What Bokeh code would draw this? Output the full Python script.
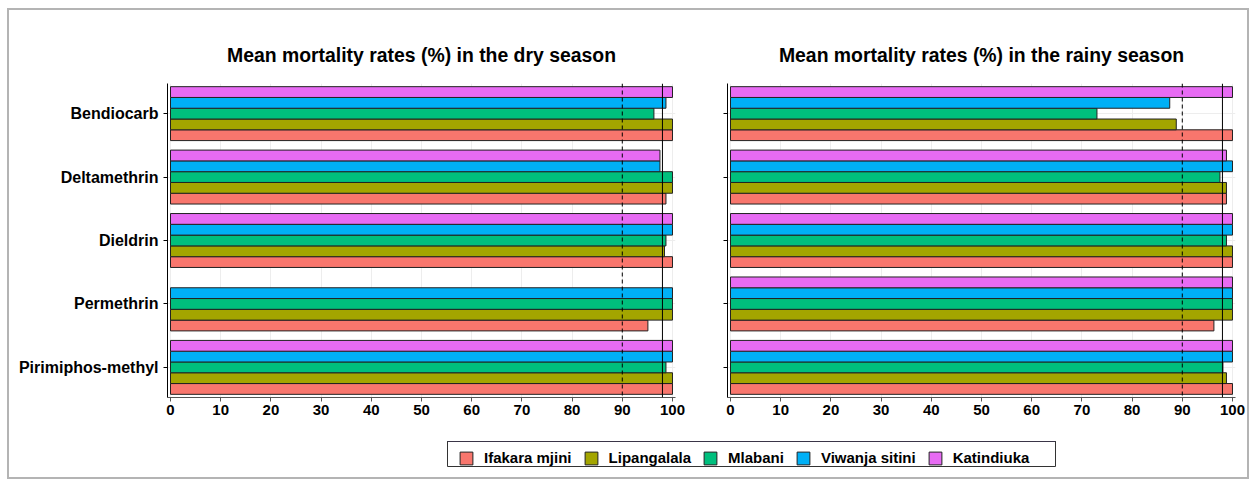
import math
from bokeh.plotting import figure
from bokeh.models import (ColumnDataSource, FactorRange, Range1d, Span, Legend,
                          LegendItem, FixedTicker)
from bokeh.transform import dodge
from bokeh.layouts import column, row
from bokeh.embed import file_html
from bokeh.resources import INLINE

NaN = float("nan")

# ---------------- data ----------------
insecticides = ["Bendiocarb", "Deltamethrin", "Dieldrin", "Permethrin", "Pirimiphos-methyl"]
villages = ["Ifakara mjini", "Lipangalala", "Mlabani", "Viwanja sitini", "Katindiuka"]
colors = ["#F8766D", "#A3A500", "#00BF7D", "#00B0F6", "#E76BF3"]

# dry season mean mortality (%) per insecticide (order as `insecticides`)
dry_ifakara = [100, 98.7, 100, 95.1, 100]
dry_lipangalala = [100, 100, 98.4, 100, 100]
dry_mlabani = [96.3, 100, 98.7, 100, 98.7]
dry_viwanja = [98.7, 97.5, 100, 100, 100]
dry_katindiuka = [100, 97.5, 100, NaN, 100]

# rainy season mean mortality (%)
rainy_ifakara = [100, 98.8, 100, 96.3, 100]
rainy_lipangalala = [88.8, 98.8, 100, 100, 98.8]
rainy_mlabani = [73.0, 97.5, 98.8, 100, 98.1]
rainy_viwanja = [87.5, 100, 100, 100, 100]
rainy_katindiuka = [100, 98.8, 100, 100, 100]

x_ticks = [0, 10, 20, 30, 40, 50, 60, 70, 80, 90, 100]
cutoff_dashed = 90
cutoff_solid = 98

dry = [dry_ifakara, dry_lipangalala, dry_mlabani, dry_viwanja, dry_katindiuka]
rainy = [rainy_ifakara, rainy_lipangalala, rainy_mlabani, rainy_viwanja, rainy_katindiuka]

FONT = "Liberation Sans"
BAR_H = 0.17


def make_panel(title, series, show_labels, width, min_left, min_right):
    p = figure(width=width, height=417, output_backend="svg", toolbar_location=None,
               y_range=FactorRange(factors=list(reversed(insecticides)), range_padding=-0.01),
               x_range=Range1d(-0.6, 100.6),
               min_border_left=min_left, min_border_right=min_right,
               min_border_top=73, min_border_bottom=30)
    p.title.text = title
    p.title.align = "center"
    p.title.text_font = FONT
    p.title.text_font_size = "19.4px"
    p.title.text_font_style = "bold"
    p.title.text_color = "black"
    p.title.standoff = 36
    p.outline_line_color = None
    p.background_fill_color = "white"
    p.border_fill_color = "white"

    for k, (vals, col) in enumerate(zip(series, colors)):
        src = ColumnDataSource(dict(ins=insecticides, val=vals))
        p.hbar(y=dodge("ins", (k - 2) * BAR_H, range=p.y_range), right="val", left=0,
               height=BAR_H, source=src, fill_color=col, line_color="#222222",
               line_width=1)

    p.add_layout(Span(location=cutoff_dashed, dimension="height", line_color="black",
                      line_width=1, line_dash="4 3"))
    p.add_layout(Span(location=cutoff_solid, dimension="height", line_color="black",
                      line_width=1))

    p.xaxis.ticker = FixedTicker(ticks=x_ticks)
    p.xgrid.ticker = FixedTicker(ticks=x_ticks)
    p.xgrid.grid_line_color = "#ededed"
    p.ygrid.grid_line_color = "#ededed"
    p.xaxis.axis_line_color = "#555555"
    p.xaxis.major_tick_line_color = "#555555"
    p.xaxis.major_tick_out = 4
    p.xaxis.major_tick_in = 0
    p.xaxis.minor_tick_line_color = None
    p.xaxis.major_label_text_font = FONT
    p.xaxis.major_label_text_font_size = "15px"
    p.xaxis.major_label_text_font_style = "bold"
    p.xaxis.major_label_text_color = "black"
    p.xaxis.major_label_standoff = 3

    p.yaxis.axis_line_color = "black"
    p.yaxis.major_tick_line_color = "black"
    p.yaxis.major_tick_out = 4
    p.yaxis.major_tick_in = 0
    p.yaxis.major_label_text_font = FONT
    p.yaxis.major_label_text_font_style = "bold"
    p.yaxis.major_label_text_color = "black"
    p.yaxis.major_label_standoff = 5
    # the rainy-season panel shares the category labels of the dry-season panel
    p.yaxis.major_label_text_font_size = "16px" if show_labels else "0px"
    return p


p1 = make_panel("Mean mortality rates (%) in the dry season", dry, True, 688, 158, 22)
p2 = make_panel("Mean mortality rates (%) in the rainy season", rainy, False, 550, 30, 12)

# legend-only figure: its frame outline is the legend box
pl = figure(width=1238, height=50, output_backend="svg", toolbar_location=None,
            x_range=Range1d(0, 1), y_range=Range1d(0, 1),
            min_border_left=438, min_border_right=192, min_border_top=14,
            min_border_bottom=11)
pl.axis.visible = False
pl.grid.visible = False
pl.outline_line_color = "#333333"
pl.outline_line_width = 1
items = []
for v, col in zip(villages, colors):
    # swatch-only renderer (bar lies outside the visible range)
    r = pl.hbar(y=[10], right=[1], left=0, height=0.1, fill_color=col,
                line_color="#222222", line_width=1)
    items.append(LegendItem(label=v, renderers=[r]))
legend = Legend(items=items, orientation="horizontal", location=(11, 0),
                glyph_width=16, glyph_height=16, label_standoff=10, spacing=11,
                padding=4, margin=0, label_text_font=FONT, label_text_font_size="15px",
                label_text_font_style="bold", label_text_color="black",
                border_line_color=None, background_fill_alpha=0,
                label_height=16)
pl.add_layout(legend, "center")

layout = column(row(p1, p2), pl,
                styles={"border": "2px solid #b4b4b4", "margin": "8px 0 0 7px"})

with open("out.html", "w") as f:
    f.write(file_html(layout, INLINE))
